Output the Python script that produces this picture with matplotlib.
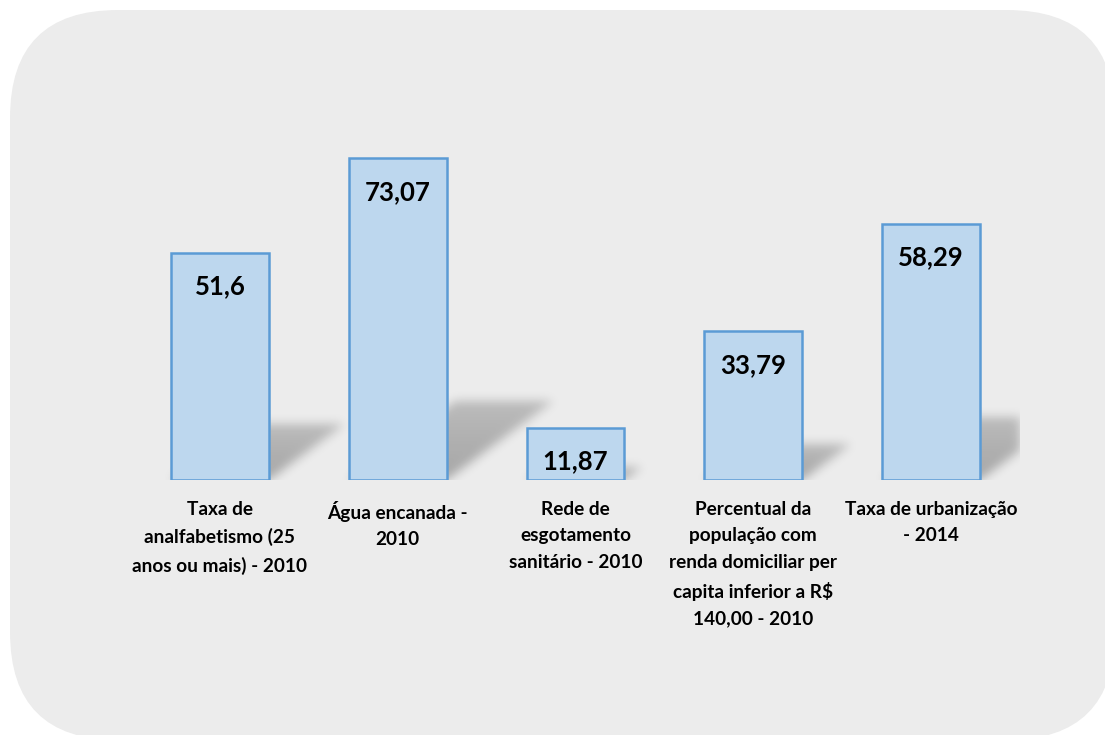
import numpy as np
import matplotlib
matplotlib.use("Agg")
import matplotlib.pyplot as plt
from matplotlib.patches import FancyBboxPatch

categories = [
    "Taxa de\nanalfabetismo (25\nanos ou mais) - 2010",
    "Água encanada -\n2010",
    "Rede de\nesgotamento\nsanitário - 2010",
    "Percentual da\npopulação com\nrenda domiciliar per\ncapita inferior a R$\n140,00 - 2010",
    "Taxa de urbanização\n- 2014",
]
values = [51.6, 73.07, 11.87, 33.79, 58.29]

plt.rcParams['font.family'] = ['Lato', 'DejaVu Sans']

W, H = 1105, 735
fig = plt.figure(figsize=(W / 100, H / 100), dpi=100)
fig.patch.set_facecolor('white')

# rounded background panel
bg = fig.add_axes([0, 0, 1, 1])
bg.set_xlim(0, W)
bg.set_ylim(H, 0)
bg.axis('off')
bg.add_patch(FancyBboxPatch((10, 10), 1105, 730,
                            boxstyle="round,pad=0,rounding_size=108",
                            facecolor='#ececec', edgecolor='none'))

left_px, right_px, base_px, top_px = 131, 1020, 480, 128
ax = fig.add_axes([left_px / W, (H - base_px) / H,
                   (right_px - left_px) / W, (base_px - top_px) / H])
ax.set_facecolor('none')
ymax = 80
ax.set_xlim(-0.5, len(values) - 0.5)
ax.set_ylim(0, ymax)
ax.axis('off')

x = np.arange(len(values))
bw = 0.55

# perspective shadows (blurred), computed in pixel space
nx, ny = right_px - left_px, base_px - top_px
sx = nx / len(values)
sy = ny / ymax
xx = np.arange(nx) + 0.5
yy = np.arange(ny) + 0.5
XX, YY = np.meshgrid(xx, yy)
mask = np.zeros((ny, nx))
for xi, v in zip(x, values):
    cpx = (xi + 0.5) * sx
    L, R = cpx - bw * sx / 2, cpx + bw * sx / 2
    h = v * sy
    dy = 0.245 * h
    dx = 1.35 * dy
    shift = YY * dx / dy
    m = (YY <= dy) & (XX >= L + shift) & (XX <= R + shift)
    fade = 1 - 0.3 * np.clip(YY / dy, 0, 1)
    mask = np.maximum(mask, m * fade)

sigma = 5.0
k = np.arange(-15, 16)
kern = np.exp(-k ** 2 / (2 * sigma ** 2))
kern /= kern.sum()
blur = np.apply_along_axis(lambda r: np.convolve(r, kern, mode='same'), 1, mask)
blur = np.apply_along_axis(lambda c: np.convolve(c, kern, mode='same'), 0, blur)
img = np.zeros((ny, nx, 4))
img[..., 3] = 0.3 * blur
ax.imshow(img, extent=(-0.5, len(values) - 0.5, 0, ymax), origin='lower',
          aspect='auto', zorder=1, interpolation='bilinear')

bars = ax.bar(x, values, width=bw, color='#bdd7ee', edgecolor='#5b9bd5',
              linewidth=1.8, zorder=3)

for xi, v in zip(x, values):
    ax.annotate(f"{v}".replace('.', ','), (xi, v), xytext=(0, -24),
                textcoords='offset points', ha='center', va='center',
                fontsize=18.5, fontweight='bold', color='black', zorder=4)

for xi, lab in zip(x, categories):
    ax.annotate(lab, (xi, 0), xytext=(0, -15), textcoords='offset points',
                ha='center', va='top', fontsize=13.7, fontweight='bold',
                color='black', linespacing=1.68, annotation_clip=False)

fig.savefig('out.png', dpi=100, facecolor='white')
